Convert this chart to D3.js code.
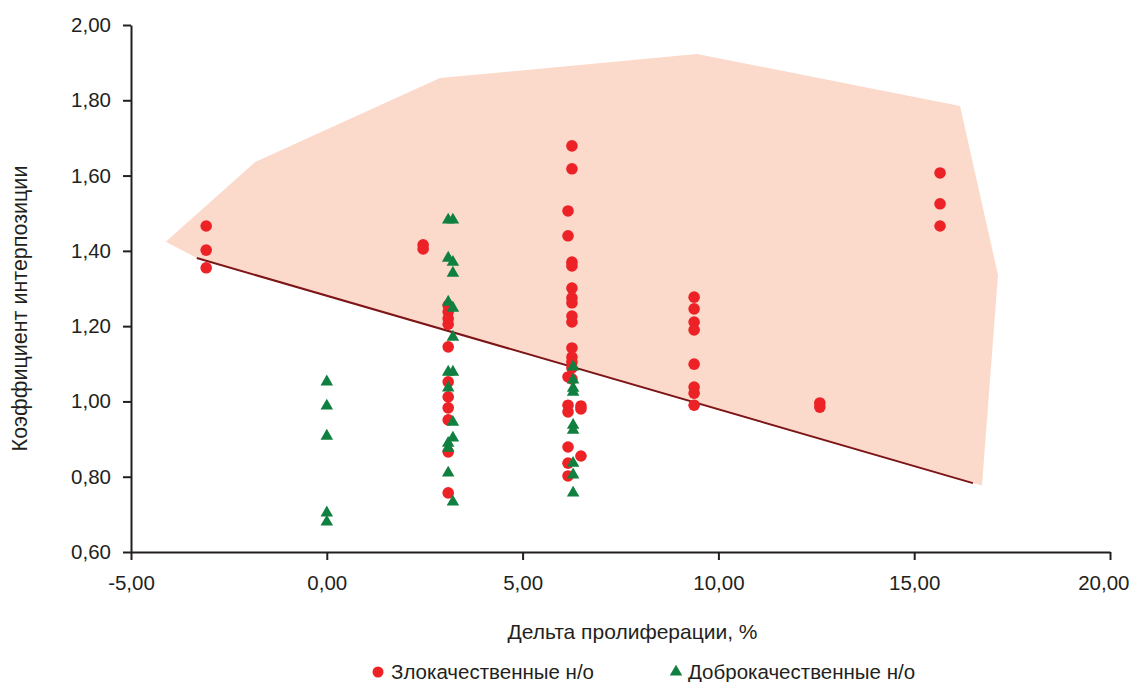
<!DOCTYPE html>
<html>
<head>
<meta charset="utf-8">
<script src="https://cdn.jsdelivr.net/npm/d3@7"></script>
<style>
  body { margin: 0; background: #fff; }
  text { font-family: "Liberation Sans", Arial, sans-serif; fill: #231f20; }
  .axis path, .axis line { stroke: #231f20; stroke-width: 2; }
  .axis text { font-size: 20.5px; }
</style>
</head>
<body>
<figure style="margin:0"></figure>
<script>
// chart size
var W = 1130, H = 682;
var margin = {top: 25, right: 20, bottom: 130, left: 131},
    width = 1110 - margin.left,
    height = 552 - margin.top;

// malignant tumours (red circles): delta proliferation, %  /  interposition coefficient
var malignantX = [-3.08, -3.08, -3.08,
                  2.46, 2.46,
                  3.1, 3.1, 3.1, 3.1, 3.1, 3.1, 3.1, 3.1, 3.1, 3.1, 3.1,
                  6.26, 6.26, 6.16, 6.16, 6.26, 6.26, 6.26, 6.26, 6.26, 6.26, 6.26, 6.26, 6.26, 6.26, 6.26, 6.16, 6.26,
                  6.16, 6.16, 6.49, 6.49, 6.16, 6.49, 6.16, 6.16,
                  9.38, 9.38, 9.38, 9.38, 9.38, 9.38, 9.38, 9.38,
                  12.59, 12.59,
                  15.66, 15.66, 15.66];
var malignantY = [1.466, 1.402, 1.355,
                  1.416, 1.405,
                  1.255, 1.238, 1.22, 1.205, 1.145, 1.052, 1.012, 0.983, 0.951, 0.866, 0.757,
                  1.679, 1.618, 1.506, 1.44, 1.37, 1.36, 1.301, 1.275, 1.262, 1.227, 1.211, 1.142, 1.118, 1.105, 1.089, 1.065, 1.06,
                  0.99, 0.972, 0.988, 0.98, 0.879, 0.855, 0.836, 0.802,
                  1.277, 1.246, 1.211, 1.19, 1.099, 1.038, 1.022, 0.99,
                  0.996, 0.985,
                  1.607, 1.525, 1.466];

// benign tumours (green triangles)
var benignX = [0.0, 0.0, 0.0, 0.0, 0.0,
               3.1, 3.22, 3.1, 3.22, 3.22, 3.1, 3.22, 3.22, 3.1, 3.22, 3.1, 3.22, 3.22, 3.1, 3.1, 3.1, 3.22,
               6.29, 6.29, 6.29, 6.29, 6.29, 6.29, 6.29, 6.29, 6.29];
var benignY = [1.052, 0.988, 0.908, 0.704, 0.68,
               1.482, 1.482, 1.381, 1.37, 1.341, 1.264, 1.248, 1.171, 1.078, 1.078, 1.036, 0.945, 0.903, 0.889, 0.876, 0.81, 0.733,
               1.092, 1.057, 1.035, 1.025, 0.937, 0.924, 0.836, 0.805, 0.757];

// shaded region of malignant tumours (polygon vertices)
var regionX = [-4.11, -1.83, 2.89, 9.45, 16.17, 17.14, 16.73, 16.5, -3.32];
var regionY = [1.424, 1.636, 1.859, 1.923, 1.785, 1.336, 0.776, 0.783, 1.381];

// dividing line
var lineX = [-3.32, 16.5];
var lineY = [1.381, 0.783];

var xTicks = [-5, 0, 5, 10, 15, 20];
var yTicks = [0.6, 0.8, 1.0, 1.2, 1.4, 1.6, 1.8, 2.0];

var malignant = malignantX.map(function(d, i) { return {x: d, y: malignantY[i]}; });
var benign = benignX.map(function(d, i) { return {x: d, y: benignY[i]}; });
var region = regionX.map(function(d, i) { return [d, regionY[i]]; });

var svg = d3.select("figure").append("svg")
    .attr("width", W)
    .attr("height", H)
  .append("g")
    .attr("transform", "translate(" + margin.left + "," + margin.top + ")");

var x = d3.scaleLinear().domain([-5, 20]).range([0, width]);
var y = d3.scaleLinear().domain([0.6, 2.0]).range([height, 0]);

// comma decimals, plain hyphen for minus
var fmt = function(d) { return d.toFixed(2).replace(".", ","); };

// region
var area = d3.line()
    .x(function(d) { return x(d[0]); })
    .y(function(d) { return y(d[1]); });

svg.append("path")
    .datum(region)
    .attr("fill", "#fbdacb")
    .attr("d", function(d) { return area(d) + "Z"; });

// line
svg.append("line")
    .attr("x1", x(lineX[0])).attr("y1", y(lineY[0]))
    .attr("x2", x(lineX[1])).attr("y2", y(lineY[1]))
    .attr("stroke", "#7d1416")
    .attr("stroke-width", 2);

// axes
var gx = svg.append("g")
    .attr("class", "x axis")
    .attr("transform", "translate(0," + height + ")")
    .call(d3.axisBottom(x).tickValues(xTicks).tickFormat(fmt).tickSize(8).tickSizeOuter(0).tickPadding(15));

// last label would run off the page
gx.selectAll(".tick text").filter(function(d) { return d === 20; })
    .attr("text-anchor", "end")
    .attr("dx", 19);

svg.append("g")
    .attr("class", "y axis")
    .call(d3.axisLeft(y).tickValues(yTicks).tickFormat(fmt).tickSize(8).tickSizeOuter(0).tickPadding(12));

// points
svg.append("g").selectAll("circle")
    .data(malignant)
  .enter().append("circle")
    .attr("r", 5.8)
    .attr("cx", function(d) { return x(d.x); })
    .attr("cy", function(d) { return y(d.y); })
    .attr("fill", "#ec2227");

var tri = d3.symbol().type(d3.symbolTriangle).size(68);
svg.append("g").selectAll("path")
    .data(benign)
  .enter().append("path")
    .attr("d", tri)
    .attr("transform", function(d) { return "translate(" + x(d.x) + "," + y(d.y) + ")"; })
    .attr("fill", "#108040");

// axis titles
svg.append("text")
    .attr("x", width / 2 + 12)
    .attr("y", height + 87)
    .attr("text-anchor", "middle")
    .style("font-size", "21px")
    .text("Дельта пролиферации, %");

svg.append("text")
    .attr("transform", "translate(" + (-104) + "," + (height / 2 + 20) + ") rotate(-90)")
    .attr("text-anchor", "middle")
    .style("font-size", "21.5px")
    .text("Коэффициент интерпозиции");

// legend
var legend = svg.append("g").attr("transform", "translate(0," + (height + 120) + ")");
legend.append("circle").attr("cx", 378 - margin.left).attr("cy", 0).attr("r", 5.5).attr("fill", "#ec2227");
legend.append("text").attr("x", 391 - margin.left).attr("y", 7).style("font-size", "20.5px").text("Злокачественные н/о");
legend.append("path").attr("d", tri).attr("transform", "translate(" + (676 - margin.left) + ",0)").attr("fill", "#108040");
legend.append("text").attr("x", 688 - margin.left).attr("y", 7).style("font-size", "20.5px").text("Доброкачественные н/о");
</script>
</body>
</html>
